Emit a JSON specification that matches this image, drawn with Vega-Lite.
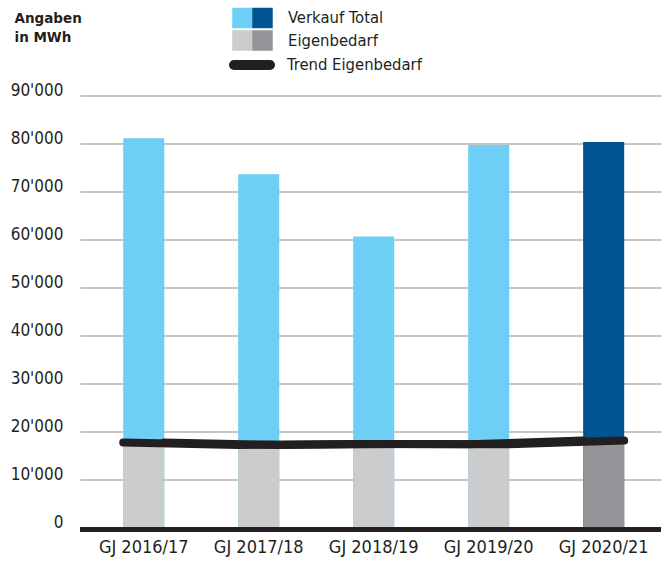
{
  "$schema": "https://vega.github.io/schema/vega-lite/v6.json",
  "width": 581,
  "height": 432,
  "autosize": {"type": "none"},
  "padding": {"left": 80, "top": 95.5, "right": 6, "bottom": 34.5},
  "background": "#ffffff",
  "data": {
    "values": [
      {"jahr": "GJ 2016/17", "Verkauf Total": 81100, "Eigenbedarf": 17700},
      {"jahr": "GJ 2017/18", "Verkauf Total": 73600, "Eigenbedarf": 17200},
      {"jahr": "GJ 2018/19", "Verkauf Total": 60600, "Eigenbedarf": 17400},
      {"jahr": "GJ 2019/20", "Verkauf Total": 79700, "Eigenbedarf": 17350},
      {"jahr": "GJ 2020/21", "Verkauf Total": 80300, "Eigenbedarf": 18100}
    ]
  },
  "layer": [
    {
      "transform": [
        {"filter": "datum.jahr !== 'GJ 2020/21'"},
        {"fold": ["Verkauf Total", "Eigenbedarf"], "as": ["typ", "wert"]}
      ],
      "mark": {"type": "bar"},
      "encoding": {
        "x": {
          "field": "jahr", "type": "nominal", "title": null,
          "sort": ["GJ 2016/17", "GJ 2017/18", "GJ 2018/19", "GJ 2019/20", "GJ 2020/21"],
          "scale": {"paddingInner": 0.643, "paddingOuter": 0.348, "align": 0.54}
        },
        "y": {
          "field": "wert", "type": "quantitative", "stack": null,
          "scale": {"domain": [0, 90000], "nice": false},
          "axis": {
            "title": ["Angaben", "in MWh"],
            "values": [0, 10000, 20000, 30000, 40000, 50000, 60000, 70000, 80000, 90000],
            "labelExpr": "replace(format(datum.value, ','), ',', \"'\")"
          }
        },
        "color": {
          "field": "typ", "type": "nominal",
          "scale": {"domain": ["Verkauf Total", "Eigenbedarf"], "range": ["#6dcff6", "#cbcccd"]},
          "legend": {
            "orient": "none", "legendX": 152, "legendY": -88, "direction": "vertical",
            "title": null, "padding": 0, "symbolType": "square", "symbolSize": 420,
            "symbolStrokeWidth": 0, "symbolOpacity": 1, "rowPadding": 1.5,
            "labelExpr": "''", "labelFontSize": 16.5
          }
        }
      }
    },
    {
      "transform": [
        {"filter": "datum.jahr === 'GJ 2020/21'"},
        {"fold": ["Verkauf Total", "Eigenbedarf"], "as": ["typ", "wert"]}
      ],
      "mark": {"type": "bar"},
      "encoding": {
        "x": {"field": "jahr", "type": "nominal", "title": null},
        "y": {"field": "wert", "type": "quantitative", "stack": null},
        "fill": {
          "field": "typ", "type": "nominal",
          "scale": {"domain": ["Eigenbedarf", "Verkauf Total"], "range": ["#939598", "#005591"]},
          "legend": {
            "orient": "none", "legendX": 172, "legendY": -88, "direction": "vertical",
            "values": ["Verkauf Total", "Eigenbedarf"],
            "title": null, "padding": 0, "symbolType": "square", "symbolSize": 420,
            "symbolStrokeWidth": 0, "symbolOpacity": 1, "rowPadding": 1.5,
            "labelOffset": 15, "labelFontSize": 16.5, "labelColor": "#231f20"
          }
        }
      }
    },
    {
      "mark": {"type": "line", "strokeWidth": 8, "strokeCap": "round", "strokeJoin": "round"},
      "encoding": {
        "x": {"field": "jahr", "type": "nominal", "title": null, "bandPosition": 0},
        "y": {"field": "Eigenbedarf", "type": "quantitative"},
        "stroke": {
          "datum": "Trend Eigenbedarf",
          "scale": {"domain": ["Trend Eigenbedarf"], "range": ["#231f20"]},
          "legend": {
            "orient": "none", "legendX": 149, "legendY": -53.5, "title": null, "padding": 0,
            "symbolType": "stroke", "symbolSize": 1296, "symbolStrokeWidth": 10,
            "labelOffset": 12, "labelFontSize": 16.5, "labelColor": "#231f20",
            "encode": {"symbols": {"update": {"strokeCap": {"value": "round"}}}}
          }
        }
      }
    },
    {
      "mark": {"type": "line", "strokeWidth": 8, "strokeCap": "round", "strokeJoin": "round"},
      "encoding": {
        "x": {"field": "jahr", "type": "nominal", "title": null, "bandPosition": 1},
        "y": {"field": "Eigenbedarf", "type": "quantitative"},
        "stroke": {"datum": "Trend Eigenbedarf"}
      }
    },
    {
      "mark": {"type": "rule", "color": "#231f20", "strokeWidth": 4, "yOffset": 2},
      "encoding": {
        "y": {"datum": 0, "type": "quantitative"}
      }
    }
  ],
  "config": {
    "view": {"stroke": null},
    "font": "DejaVu Sans Condensed, Roboto, sans-serif",
    "axis": {
      "domain": false,
      "ticks": false,
      "labelColor": "#231f20",
      "labelFont": "DejaVu Sans Condensed, Roboto, sans-serif"
    },
    "axisY": {
      "gridColor": "#b3b3b3",
      "gridWidth": 1.5,
      "labelFontSize": 17,
      "labelPadding": 17,
      "labelBaseline": "alphabetic",
      "titleFont": "DejaVu Sans",
      "titleFontWeight": "bold",
      "titleFontSize": 13.5,
      "titleColor": "#231f20",
      "titleAngle": 0,
      "titleAlign": "left",
      "titleBaseline": "alphabetic",
      "titleLineHeight": 19,
      "titleX": -66,
      "titleY": -72.8
    },
    "axisX": {
      "grid": false,
      "labelFontSize": 18,
      "labelPadding": 11,
      "labelAngle": 0
    },
    "legend": {
      "labelFont": "DejaVu Sans Condensed, Roboto, sans-serif"
    }
  }
}
